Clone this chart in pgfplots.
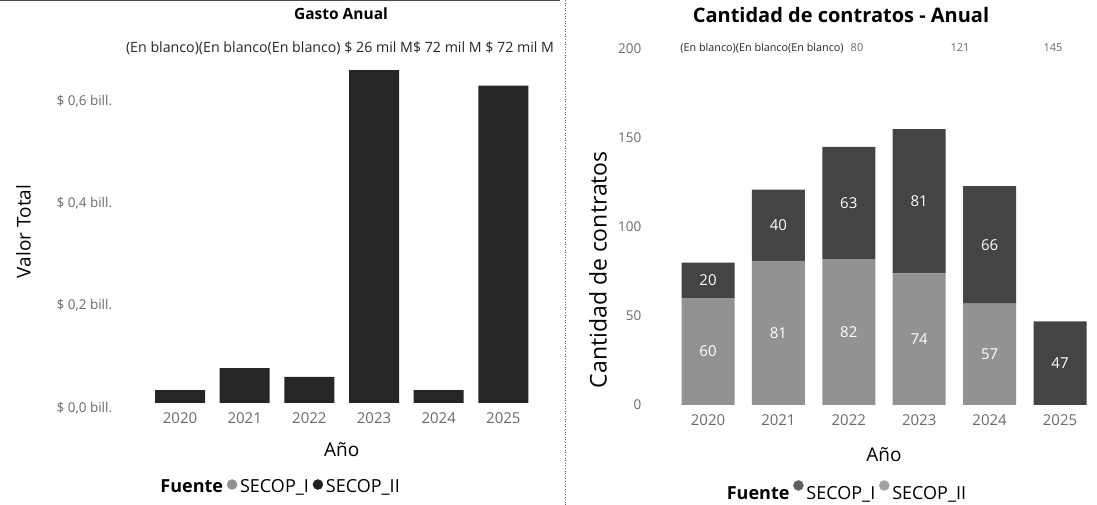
\documentclass[border=0pt]{standalone}
\usepackage{pgfplots}
\pgfplotsset{compat=1.18}
\usepackage{fontspec}
\setmainfont{Open Sans}
\definecolor{sone}{HTML}{929292}
\definecolor{stwo}{HTML}{444444}
\definecolor{gdark}{HTML}{262626}
\definecolor{ticktxt}{HTML}{6A6A6A}
\definecolor{lgone}{HTML}{909090}
\definecolor{lgtwo}{HTML}{202020}
\begin{document}
\begin{tikzpicture}[x=1pt,y=1pt]
\path[use as bounding box] (0,0) rectangle (1097,505);
\draw[black!60, dotted, line width=0.6pt] (565,0) -- (565,505);
\draw[black!70, line width=0.8pt] (0,504.5) -- (560,504.5);
% titles
\node[font=\fontsize{15.5}{18}\selectfont\bfseries] at (341,491) {Gasto Anual};
\node[font=\fontsize{20}{23}\selectfont\bfseries] at (841,490) {Cantidad de contratos - Anual};
% top data-label rows
\node[font=\fontsize{14.2}{16}\selectfont, text=black!85] at (340,457) {(En blanco)(En blanco(En blanco) \$ 26 mil M\$ 72 mil M \$ 72 mil M};
\node[font=\fontsize{10.8}{13}\selectfont, text=black!85] at (762,457) {(En blanco)(En blanco(En blanco)};
\node[font=\fontsize{11}{13}\selectfont, text=ticktxt] at (857,457) {80};
\node[font=\fontsize{11}{13}\selectfont, text=ticktxt] at (960,457) {121};
\node[font=\fontsize{11}{13}\selectfont, text=ticktxt] at (1053,457) {145};

% ---------------- left chart
\begin{axis}[
  at={(147.7pt,102pt)}, anchor=south west,
  width=388pt, height=343pt, scale only axis,
  xmin=-0.5, xmax=5.5, ymin=0, ymax=0.67,
  axis x line*=bottom, axis y line*=left,
  axis line style={draw=none}, tick style={draw=none},
  xtick={0,1,2,3,4,5}, xticklabels={2020,2021,2022,2023,2024,2025},
  ytick={0,0.2,0.4,0.6},
  yticklabels={{\$ 0,0 bill.},{\$ 0,2 bill.},{\$ 0,4 bill.},{\$ 0,6 bill.}},
  /pgf/number format/assume math mode=true,
  yticklabel style={font=\fontsize{13.5}{15}\selectfont, text=ticktxt, xshift=-32pt, yshift=-5pt},
  xticklabel style={font=\fontsize{15}{17}\selectfont, text=ticktxt, yshift=-6pt},
  xlabel={Año}, xlabel style={at={(axis description cs:0.5,-0.137)}, anchor=center, font=\fontsize{19}{22}\selectfont},
  ylabel={Valor Total}, ylabel style={at={(axis description cs:-0.32,0.5)}, anchor=center, font=\fontsize{19}{22}\selectfont},
  legend style={at={(axis description cs:0.34,-0.245)}, anchor=center, draw=none, fill=none,
    font=\fontsize{18}{21}\selectfont,
    /tikz/every odd column/.append style={column sep=1pt},
    /tikz/every even column/.append style={column sep=2pt}},
  legend columns=-1,
]
\addplot[ybar, bar width=50pt, fill=gdark, draw=none, forget plot]
  coordinates {(0,0.025) (1,0.068) (2,0.051) (3,0.65) (4,0.025) (5,0.62)};
\addlegendimage{empty legend}
\addlegendentry{\textbf{Fuente}}
\addlegendimage{only marks, mark=*, mark size=5pt, mark options={fill=lgone, draw=lgone, yshift=2.5pt}}
\addlegendentry{SECOP\_I}
\addlegendimage{only marks, mark=*, mark size=5pt, mark options={fill=lgtwo, draw=lgtwo, yshift=2.5pt}}
\addlegendentry{SECOP\_II}
\end{axis}

% ---------------- right chart
\begin{axis}[
  at={(672.8pt,100pt)}, anchor=south west,
  width=422.4pt, height=356pt, scale only axis,
  xmin=-0.5, xmax=5.5, ymin=0, ymax=200,
  ybar stacked, bar width=53pt,
  axis x line*=bottom, axis y line*=left,
  axis line style={draw=none}, tick style={draw=none},
  xtick={0,1,2,3,4,5}, xticklabels={2020,2021,2022,2023,2024,2025},
  ytick={0,50,100,150,200},
  /pgf/number format/assume math mode=true,
  yticklabel style={font=\fontsize{13.5}{15}\selectfont, text=ticktxt, xshift=-28pt},
  xticklabel style={font=\fontsize{15}{17}\selectfont, text=ticktxt, yshift=-6pt},
  xlabel={Año}, xlabel style={at={(axis description cs:0.5,-0.14)}, anchor=center, font=\fontsize{19}{22}\selectfont},
  ylabel={Cantidad de contratos}, ylabel style={at={(axis description cs:-0.177,0.38)}, anchor=center, font=\fontsize{23}{26}\selectfont},
  legend style={at={(axis description cs:0.41,-0.244)}, anchor=center, draw=none, fill=none,
    font=\fontsize{18}{21}\selectfont,
    /tikz/every odd column/.append style={column sep=1pt},
    /tikz/every even column/.append style={column sep=2pt}},
  legend columns=-1,
]
\addplot[fill=sone, draw=none, forget plot] coordinates {(0,60) (1,81) (2,82) (3,74) (4,57) (5,0)};
\addplot[fill=stwo, draw=none, forget plot] coordinates {(0,20) (1,40) (2,63) (3,81) (4,66) (5,47)};
\addlegendimage{empty legend}
\addlegendentry{\textbf{Fuente}}
\addlegendimage{only marks, mark=*, mark size=5pt, mark options={fill=stwo!85, draw=stwo!85, yshift=2.5pt}}
\addlegendentry{SECOP\_I}
\addlegendimage{only marks, mark=*, mark size=5pt, mark options={fill=sone!85, draw=sone!85, yshift=2.5pt}}
\addlegendentry{SECOP\_II}
\end{axis}

% labels inside the stacked bars (same axis frame)
\begin{axis}[
  at={(672.8pt,100pt)}, anchor=south west,
  width=422.4pt, height=356pt, scale only axis,
  xmin=-0.5, xmax=5.5, ymin=0, ymax=200, hide axis,
]
\addplot[draw=none, mark=none, nodes near coords, point meta=explicit symbolic,
  every node near coord/.style={anchor=center, text=white, font=\fontsize{15}{17}\selectfont}]
  table[meta=lab] {
  x y lab
  0 30 60
  1 40.5 81
  2 41 82
  3 37 74
  4 28.5 57
  0 70 20
  1 101 40
  2 113.5 63
  3 114.5 81
  4 90 66
  5 23.5 47
  };
\end{axis}
\end{tikzpicture}
\end{document}
